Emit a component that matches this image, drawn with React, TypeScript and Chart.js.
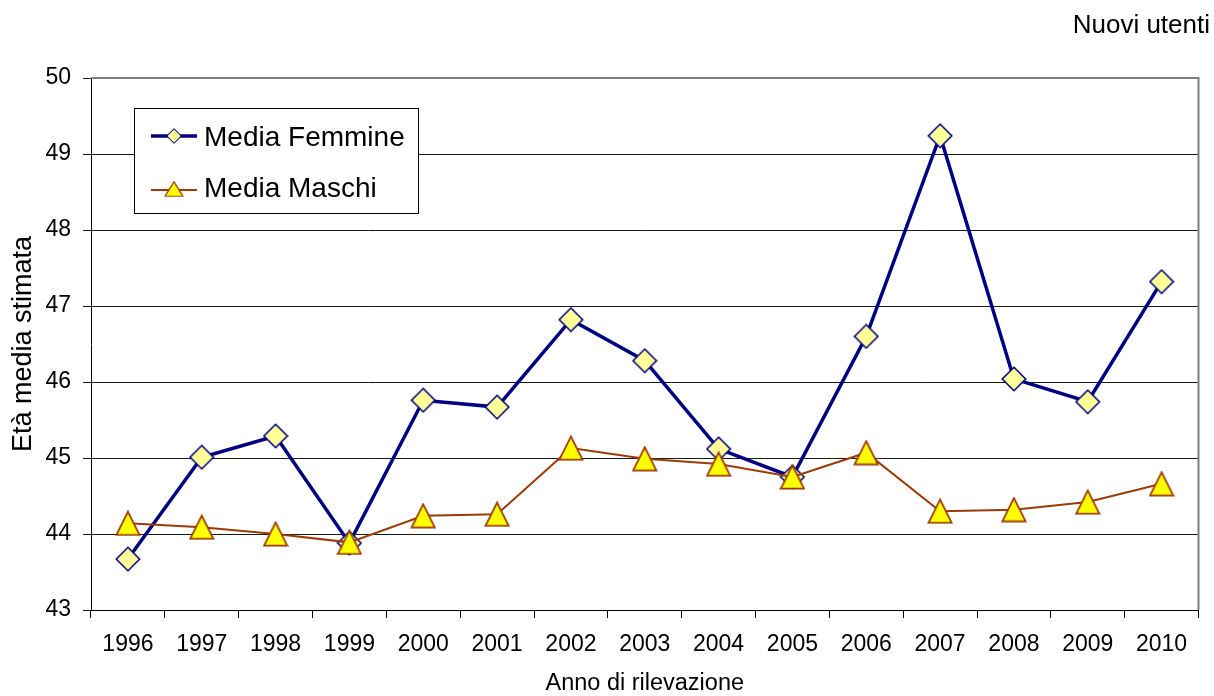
import React, { useEffect, useRef } from "react";
import { Chart, registerables } from "chart.js";

Chart.register(...registerables);

const years = ["1996", "1997", "1998", "1999", "2000", "2001", "2002", "2003", "2004", "2005", "2006", "2007", "2008", "2009", "2010"];
const mediaFemmine = [43.67, 45.01, 45.29, 43.88, 45.76, 45.67, 46.82, 46.28, 45.12, 44.75, 46.6, 49.24, 46.04, 45.74, 47.32];
const mediaMaschi = [44.14, 44.09, 44.0, 43.89, 44.24, 44.26, 45.13, 44.99, 44.92, 44.75, 45.07, 44.3, 44.32, 44.42, 44.66];
const yMin = 43;
const yMax = 50;
const yStep = 1;

const FONT = "'Liberation Sans', Arial, Helvetica, sans-serif";
const NAVY = "#000080";
const BROWN = "#9C3A08";

function makeDiamond(size: number, fill: string, stroke: string, lw: number) {
  const c = document.createElement("canvas");
  c.width = size;
  c.height = size;
  const g = c.getContext("2d")!;
  const h = size / 2;
  const r = h - lw / 2 - 0.5;
  g.beginPath();
  g.moveTo(h, h - r);
  g.lineTo(h + r, h);
  g.lineTo(h, h + r);
  g.lineTo(h - r, h);
  g.closePath();
  g.fillStyle = fill;
  g.fill();
  g.lineWidth = lw;
  g.strokeStyle = stroke;
  g.stroke();
  return c;
}

function makeTriangle(size: number, fill: string, stroke: string, lw: number) {
  const c = document.createElement("canvas");
  c.width = size;
  c.height = size;
  const g = c.getContext("2d")!;
  const m = lw / 2 + 0.5;
  g.beginPath();
  g.moveTo(size / 2, m);
  g.lineTo(size - m, size - m);
  g.lineTo(m, size - m);
  g.closePath();
  g.fillStyle = fill;
  g.fill();
  g.lineWidth = lw;
  g.lineJoin = "miter";
  g.strokeStyle = stroke;
  g.stroke();
  return c;
}

const frameAndLegend = {
  id: "frameAndLegend",
  afterDraw(chart: any) {
    const { ctx, chartArea } = chart;
    ctx.save();
    // plot area border (top / right, gray)
    ctx.strokeStyle = "#808080";
    ctx.lineWidth = 2;
    ctx.beginPath();
    ctx.moveTo(chartArea.left, chartArea.top);
    ctx.lineTo(chartArea.right, chartArea.top);
    ctx.lineTo(chartArea.right, chartArea.bottom);
    ctx.stroke();

    // legend box
    const bx = 134.5, by = 108.5, bw = 284, bh = 105;
    ctx.fillStyle = "#ffffff";
    ctx.fillRect(bx, by, bw, bh);
    ctx.strokeStyle = "#000000";
    ctx.lineWidth = 1;
    ctx.strokeRect(bx, by, bw, bh);

    const rows = [136, 190];
    const textY = [146, 197];
    const markerSizes = [[16, 16], [20, 16]];
    chart.data.datasets.forEach((ds: any, i: number) => {
      const y = rows[i];
      ctx.strokeStyle = ds.borderColor;
      ctx.lineWidth = ds.borderWidth;
      ctx.beginPath();
      ctx.moveTo(151, y);
      ctx.lineTo(197, y);
      ctx.stroke();
      const img = ds.pointStyle;
      const [w, h] = markerSizes[i];
      ctx.drawImage(img, 174 - w / 2, y - h / 2 - (i === 1 ? 1 : 0), w, h);
      ctx.fillStyle = "#000000";
      ctx.font = `28px ${FONT}`;
      ctx.textAlign = "left";
      ctx.textBaseline = "alphabetic";
      ctx.fillText(ds.label, 204, textY[i]);
    });

    // corner caption
    ctx.font = `26px ${FONT}`;
    ctx.textAlign = "right";
    ctx.fillStyle = "#000000";
    ctx.fillText("Nuovi utenti", 1210, 33);
    ctx.restore();
  },
};

export default function App() {
  const ref = useRef<HTMLCanvasElement | null>(null);

  useEffect(() => {
    if (!ref.current) return;
    const diamond = makeDiamond(26, "#FFFF99", NAVY, 1.6);
    const triangle = makeTriangle(26, "#FFFF00", BROWN, 1.8);

    const chart = new Chart(ref.current, {
      type: "line",
      data: {
        labels: years,
        datasets: [
          {
            label: "Media Femmine",
            data: mediaFemmine,
            borderColor: NAVY,
            borderWidth: 3.5,
            pointStyle: diamond as any,
            pointRadius: 12,
            order: 2,
            tension: 0,
          },
          {
            label: "Media Maschi",
            data: mediaMaschi,
            borderColor: BROWN,
            borderWidth: 2,
            pointStyle: triangle as any,
            pointRadius: 12,
            order: 1,
            tension: 0,
          },
        ],
      },
      options: {
        responsive: false,
        animation: false,
        layout: { padding: { top: 78, right: 3, left: 0, bottom: 0 } },
        plugins: {
          legend: { display: false },
          tooltip: { enabled: false },
        },
        scales: {
          x: {
            type: "category",
            offset: true,
            grid: {
              offset: true,
              drawOnChartArea: false,
              drawTicks: true,
              tickLength: 8,
              color: "#000000",
              lineWidth: 1,
            },
            border: { display: true, color: "#000000", width: 1 },
            ticks: {
              color: "#000000",
              font: { family: FONT, size: 23 },
              padding: 13,
              maxRotation: 0,
              autoSkip: false,
            },
            title: {
              display: true,
              text: "Anno di rilevazione",
              color: "#000000",
              font: { family: FONT, size: 23.5 },
              padding: { top: 0, bottom: -2 },
            },
            afterFit(scale: any) {
              scale.height = 86;
            },
          },
          y: {
            min: yMin,
            max: yMax,
            grid: {
              color: "#1a1a1a",
              lineWidth: 1,
              drawTicks: true,
              tickLength: 8,
            },
            border: { display: true, color: "#000000", width: 1 },
            ticks: {
              stepSize: yStep,
              color: "#000000",
              font: { family: FONT, size: 23 },
              padding: 12,
            },
            title: {
              display: true,
              text: "Età media stimata",
              color: "#000000",
              font: { family: FONT, size: 27 },
              padding: { top: 7, bottom: 0 },
            },
            afterFit(scale: any) {
              scale.width = 91;
            },
          },
        },
      },
      plugins: [frameAndLegend],
    });
    return () => chart.destroy();
  }, []);

  return (
    <canvas
      ref={ref}
      width={1214}
      height={696}
      style={{ position: "absolute", left: 0, top: 0, display: "block", width: 1214, height: 696 }}
    />
  );
}
